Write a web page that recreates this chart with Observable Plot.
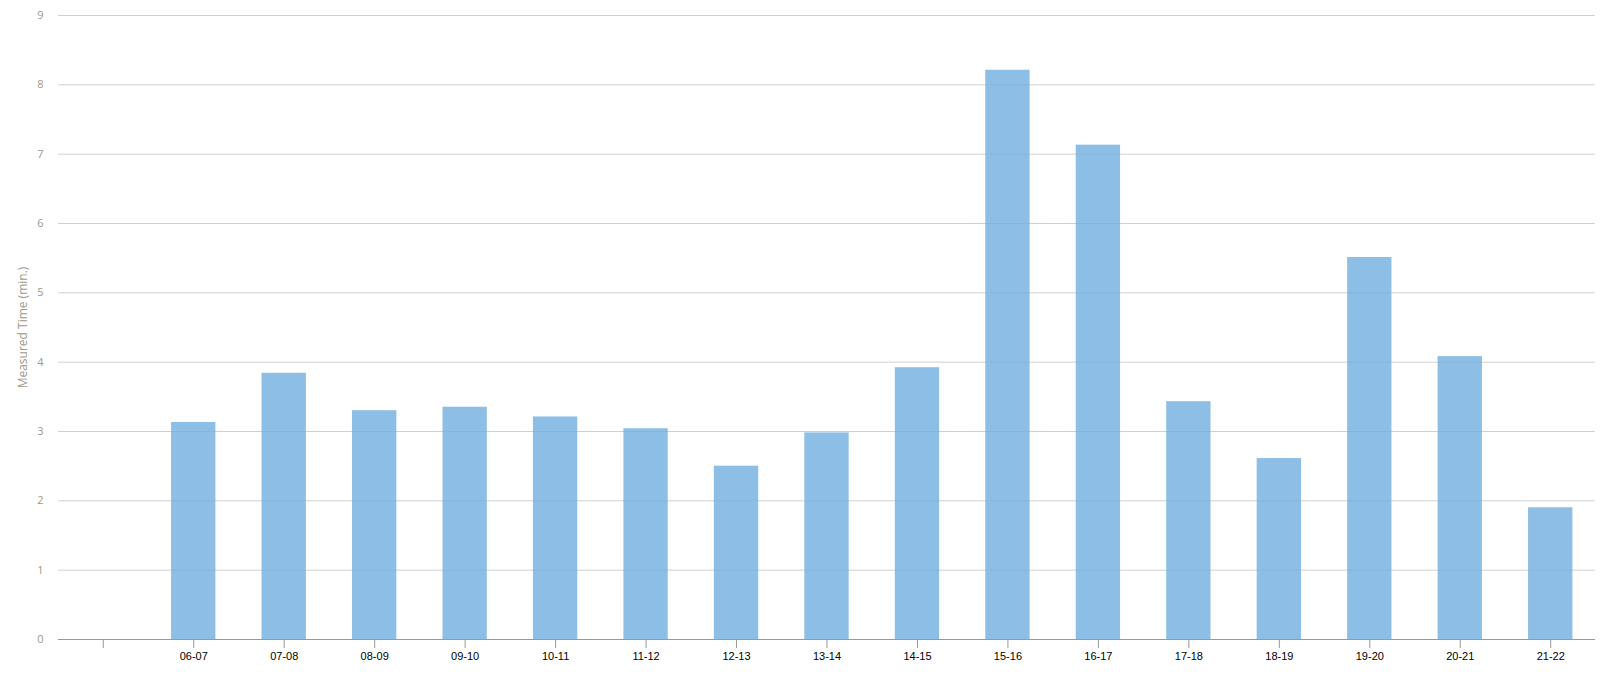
<!DOCTYPE html>
<html>
<head>
<meta charset="utf-8">
<script src="https://cdn.jsdelivr.net/npm/d3@7"></script>
<script src="https://cdn.jsdelivr.net/npm/@observablehq/plot@0.6"></script>
<style>
  html, body { margin: 0; padding: 0; background: #fff; }
  #chart svg { display: block; }
</style>
</head>
<body>
<div id="chart"></div>
<script>
// Hour intervals (first band is an empty slot in the original chart)
const categories = ["", "06-07", "07-08", "08-09", "09-10", "10-11", "11-12", "12-13", "13-14",
  "14-15", "15-16", "16-17", "17-18", "18-19", "19-20", "20-21", "21-22"];
const intervals = ["06-07", "07-08", "08-09", "09-10", "10-11", "11-12", "12-13", "13-14",
  "14-15", "15-16", "16-17", "17-18", "18-19", "19-20", "20-21", "21-22"];
const measuredMinutes = [3.13, 3.84, 3.30, 3.35, 3.21, 3.04, 2.50, 2.98,
  3.92, 8.21, 7.13, 3.43, 2.61, 5.51, 4.08, 1.90];
const yTicks = [0, 1, 2, 3, 4, 5, 6, 7, 8, 9];
const yLabel = "Measured Time (min.)";

const data = intervals.map((k, i) => ({ interval: k, value: measuredMinutes[i] }));

const chart = Plot.plot({
  width: 1608,
  height: 680,
  marginLeft: 58,
  marginRight: 13,
  marginTop: 15,
  marginBottom: 41,
  style: { background: "#fff", overflow: "visible" },
  x: { type: "band", domain: categories, paddingInner: 0.51, paddingOuter: 0.25, round: false, label: null },
  y: { domain: [0, 9], label: null },
  marks: [
    Plot.gridY(yTicks, { stroke: "#d0d0d0", strokeOpacity: 1 }),
    Plot.barY(data, { x: "interval", y: "value", fill: "rgb(112,174,222)", fillOpacity: 0.8 }),
    Plot.ruleY([0], { stroke: "#999", strokeWidth: 1 }),
    Plot.axisX({
      tickSize: 9, tickPadding: 4, stroke: "#999",
      fontSize: 11, fontFamily: "Liberation Sans, Arial, sans-serif",
      color: "#000", label: null
    }),
    Plot.axisY(yTicks, {
      tickSize: 0, tickPadding: 15, fontSize: 11, tickFormat: d3.format("d"),
      fontFamily: "Open Sans, sans-serif", color: "#a0978a", label: null
    }),
    Plot.text([yLabel], {
      frameAnchor: "left", textAnchor: "middle", rotate: -90, dx: -35, text: d => d,
      fontSize: 12, fontFamily: "Open Sans, sans-serif", fill: "#a0978a"
    })
  ]
});

document.getElementById("chart").appendChild(chart);
</script>
</body>
</html>
